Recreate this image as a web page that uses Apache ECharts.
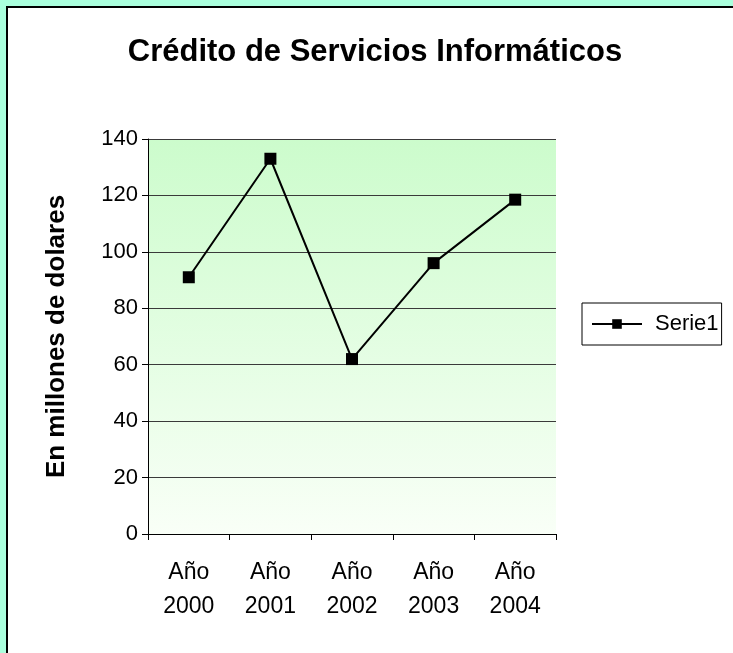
<!DOCTYPE html>
<html>
<head>
<meta charset="utf-8">
<script src="https://cdn.jsdelivr.net/npm/echarts@6/dist/echarts.min.js"></script>
<style>
    html, body { margin: 0; padding: 0; }
    body { width: 733px; height: 653px; overflow: hidden; position: relative; background: #aaffdd; }
    .frame {
        position: absolute; left: 6px; top: 6px;
        width: 800px; height: 700px;
        background: #ffffff; border: 2px solid #000;
    }
    #main { position: absolute; left: 0; top: 0; width: 733px; height: 653px; }
</style>
</head>
<body>
<div class="frame"></div>
<div id="main"></div>
<script>
// datos del grafico
const categorias = ['Año\n2000', 'Año\n2001', 'Año\n2002', 'Año\n2003', 'Año\n2004'];
const serie1 = [91, 133, 62, 96, 118.5];
const titulo = 'Crédito de Servicios Informáticos';
const nombreEjeY = 'En millones de dolares';

const fuente = 'Arial, "Liberation Sans", sans-serif';
const chart = echarts.init(document.getElementById('main'));

chart.setOption({
    backgroundColor: 'transparent',
    animation: false,
    title: {
        text: titulo,
        left: 370,
        top: 32,
        textAlign: 'center',
        textStyle: { fontFamily: fuente, fontSize: 31, fontWeight: 'bold', color: '#000' }
    },
    legend: {
        left: 582,
        top: 303,
        orient: 'vertical',
        padding: [10, 3, 10, 9],
        borderColor: '#000',
        borderWidth: 1,
        itemWidth: 50,
        itemHeight: 12,
        itemGap: 4,
        textStyle: { fontFamily: fuente, fontSize: 22, color: '#000', padding: [0, 0, 0, 8] },
        data: ['Serie1']
    },
    grid: {
        left: 148,
        top: 139,
        width: 408,
        height: 395,
        show: true,
        borderWidth: 0,
        backgroundColor: new echarts.graphic.LinearGradient(0, 0, 0, 1, [
            { offset: 0, color: '#ccfccc' },
            { offset: 1, color: '#f9fff7' }
        ])
    },
    xAxis: {
        type: 'category',
        data: categorias,
        boundaryGap: true,
        axisLine: { lineStyle: { color: '#000', width: 1 } },
        axisTick: { show: true, length: 6, lineStyle: { color: '#000' } },
        axisLabel: {
            fontFamily: fuente, fontSize: 23, color: '#000',
            lineHeight: 34, margin: 22
        }
    },
    yAxis: {
        type: 'value',
        min: 0,
        max: 140,
        interval: 20,
        name: nombreEjeY,
        nameLocation: 'middle',
        nameRotate: 90,
        nameGap: 78,
        nameTextStyle: { fontFamily: fuente, fontSize: 26, fontWeight: 'bold', color: '#000' },
        axisLine: { show: true, lineStyle: { color: '#000', width: 1 } },
        axisTick: { show: true, length: 6, lineStyle: { color: '#000' } },
        axisLabel: { fontFamily: fuente, fontSize: 22, color: '#000', margin: 10 },
        splitLine: { show: true, lineStyle: { color: '#3a3a3a', width: 1 } }
    },
    series: [
        {
            name: 'Serie1',
            type: 'line',
            data: serie1,
            symbol: 'rect',
            symbolSize: 12,
            lineStyle: { color: '#000', width: 2 },
            itemStyle: { color: '#000' }
        }
    ]
});
</script>
</body>
</html>
